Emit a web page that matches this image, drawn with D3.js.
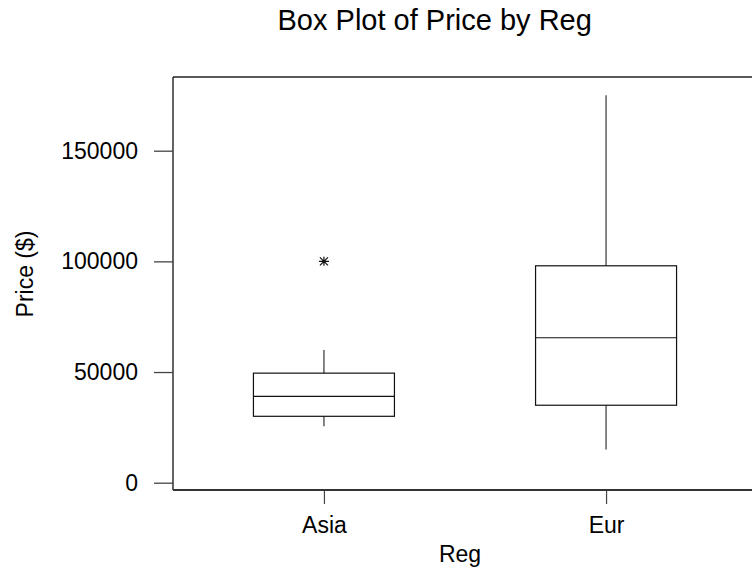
<!DOCTYPE html>
<html>
<head>
<meta charset="utf-8">
<script src="https://cdn.jsdelivr.net/npm/d3@7"></script>
<style>
  html, body { margin: 0; padding: 0; background: #fff; }
  svg { display: block; }
  text { font-family: "Liberation Sans", Arial, sans-serif; fill: #000; }
</style>
</head>
<body>
<svg id="chart" width="752" height="571"></svg>
<script>
// Price summary per region
const regions = ["Asia", "Eur"];
const whiskerLow = [25500, 15000];
const quartile1 = [30000, 35000];
const medians = [39000, 65500];
const quartile3 = [49500, 98000];
const whiskerHigh = [60000, 175000];
const outliers = [[100000], []];
const yTicks = [0, 50000, 100000, 150000];

const W = 752, H = 571;
const frame = { left: 173, top: 77, right: 752, bottom: 490 };
const boxHalf = 70.5;

const svg = d3.select("#chart");

const x = d3.scalePoint()
  .domain(regions)
  .range([frame.left, 757])
  .padding(0.535);

const y = d3.scaleLinear()
  .domain([0, 150000])
  .range([482.7, 150.7]);

// Title
svg.append("text")
  .attr("x", 434.7).attr("y", 30)
  .attr("text-anchor", "middle")
  .style("font-size", "29px")
  .text("Box Plot of Price by Reg");

// Frame: top and left edges
svg.append("line")
  .attr("x1", frame.left).attr("x2", frame.right)
  .attr("y1", frame.top).attr("y2", frame.top)
  .attr("stroke", "#222").attr("stroke-width", 1.6);
svg.append("line")
  .attr("x1", frame.left).attr("x2", frame.left)
  .attr("y1", frame.top).attr("y2", frame.bottom)
  .attr("stroke", "#222").attr("stroke-width", 1.4);

// Y axis
const yAxis = d3.axisLeft(y)
  .tickValues(yTicks)
  .tickFormat(d3.format("d"))
  .tickSize(19)
  .tickPadding(16);
const gy = svg.append("g")
  .attr("transform", `translate(${frame.left},0)`)
  .call(yAxis);
gy.select(".domain").remove();
gy.selectAll(".tick line").attr("stroke", "#444").attr("stroke-width", 1.3);
gy.selectAll(".tick text").style("font-size", "23px").attr("fill", "#000");

// X axis
const xAxis = d3.axisBottom(x)
  .tickSize(14)
  .tickPadding(12.7);
const gx = svg.append("g")
  .attr("transform", `translate(0,${frame.bottom})`)
  .call(xAxis);
gx.select(".domain").remove();
gx.selectAll(".tick line").attr("stroke", "#444").attr("stroke-width", 1.2);
gx.selectAll(".tick text").style("font-size", "23px").attr("fill", "#000");
svg.append("line")
  .attr("x1", frame.left).attr("x2", W)
  .attr("y1", frame.bottom).attr("y2", frame.bottom)
  .attr("stroke", "#333").attr("stroke-width", 2);

// Axis titles
svg.append("text")
  .attr("x", 460).attr("y", 562)
  .attr("text-anchor", "middle")
  .style("font-size", "23px")
  .text("Reg");
svg.append("text")
  .attr("transform", "translate(32.5,274) rotate(-90)")
  .attr("text-anchor", "middle")
  .style("font-size", "23px")
  .text("Price ($)");

// Boxes
const data = regions.map((r, i) => ({
  r, lo: whiskerLow[i], q1: quartile1[i], med: medians[i],
  q3: quartile3[i], hi: whiskerHigh[i], out: outliers[i]
}));

const g = svg.append("g");
const groups = g.selectAll("g.box").data(data).join("g").attr("class", "box");

// whiskers
groups.append("line")
  .attr("x1", d => x(d.r)).attr("x2", d => x(d.r))
  .attr("y1", d => y(d.q3)).attr("y2", d => y(d.hi))
  .attr("stroke", "#444").attr("stroke-width", 1.3);
groups.append("line")
  .attr("x1", d => x(d.r)).attr("x2", d => x(d.r))
  .attr("y1", d => y(d.q1)).attr("y2", d => y(d.lo))
  .attr("stroke", "#444").attr("stroke-width", 1.3);

// box
groups.append("rect")
  .attr("x", d => x(d.r) - boxHalf)
  .attr("width", boxHalf * 2)
  .attr("y", d => y(d.q3))
  .attr("height", d => y(d.q1) - y(d.q3))
  .attr("fill", "none")
  .attr("stroke", "#111").attr("stroke-width", 1.2);

// median
groups.append("line")
  .attr("x1", d => x(d.r) - boxHalf).attr("x2", d => x(d.r) + boxHalf)
  .attr("y1", d => y(d.med)).attr("y2", d => y(d.med))
  .attr("stroke", "#111").attr("stroke-width", 1.2);

// outliers drawn as asterisks
const star = "M-5,0H5M-4,-4L4,4M-4,4L4,-4M0,-4.5V4.5";
groups.selectAll("path.out")
  .data(d => d.out.map(v => ({ r: d.r, v })))
  .join("path")
  .attr("class", "out")
  .attr("transform", d => `translate(${x(d.r)},${y(d.v)})`)
  .attr("d", star)
  .attr("fill", "none")
  .attr("stroke", "#111").attr("stroke-width", 1.2);
</script>
</body>
</html>
